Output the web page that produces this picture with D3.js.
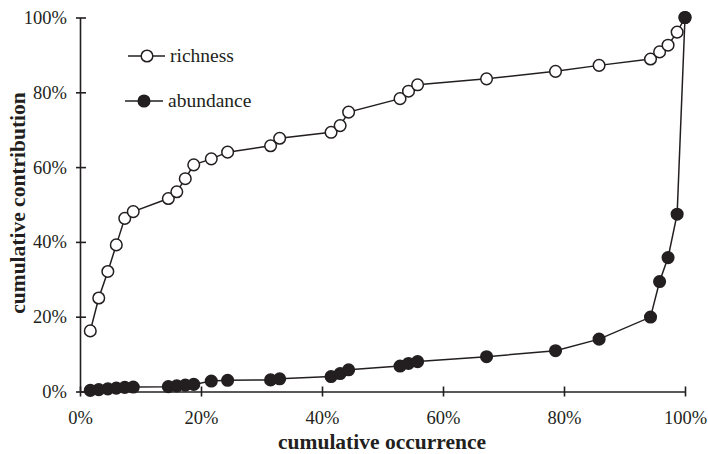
<!DOCTYPE html>
<html>
<head>
<meta charset="utf-8">
<script src="https://cdn.jsdelivr.net/npm/d3@7"></script>
<style>
  body { margin: 0; background: #fff; }
  svg text { font-family: "Liberation Serif", "Times New Roman", serif; fill: #231f20; }
</style>
</head>
<body>
<div id="viz"></div>
<script>
// cumulative occurrence (%) shared by both series
const occurrence = [1.7, 3.1, 4.6, 6.0, 7.4, 8.8, 14.6, 16.0, 17.4, 18.8, 21.7, 24.4,
  31.5, 33.0, 41.5, 43.0, 44.4, 52.9, 54.3, 55.8, 67.2, 78.6, 85.8, 94.3, 95.8, 97.2, 98.7, 100];

const richness = [16.2, 25.0, 32.1, 39.2, 46.3, 48.1, 51.6, 53.4, 56.9, 60.6, 62.2, 64.0,
  65.7, 67.7, 69.3, 71.1, 74.7, 78.3, 80.3, 82.0, 83.6, 85.6, 87.2, 88.9, 90.8, 92.6, 96.1, 100];

const abundance = [0.3, 0.5, 0.7, 0.9, 1.1, 1.2, 1.3, 1.5, 1.7, 1.9, 2.8, 3.0,
  3.1, 3.4, 4.0, 4.8, 5.8, 6.8, 7.5, 8.0, 9.3, 10.9, 14.0, 19.9, 29.4, 35.8, 47.4, 100];

const xTicks = [0, 20, 40, 60, 80, 100];
const yTicks = [0, 20, 40, 60, 80, 100];

const ink = "#231f20";

const svg = d3.select("#viz")
  .append("svg")
  .attr("width", 708)
  .attr("height", 454);

const xScale = d3.scaleLinear()
  .domain([0, 100])
  .range([80, 685]);

const yScale = d3.scaleLinear()
  .domain([0, 100])
  .range([391.5, 17.5]);

// axes
const xAxis = svg.append("g")
  .attr("transform", `translate(0,${yScale(0)})`)
  .call(d3.axisBottom(xScale).tickValues(xTicks).tickSize(5).tickSizeOuter(0).tickPadding(14)
    .tickFormat(d => d + "%"));

xAxis.selectAll(".tick line").attr("y1", -5);

const yAxis = svg.append("g")
  .attr("transform", `translate(${xScale(0)},0)`)
  .call(d3.axisLeft(yScale).tickValues(yTicks).tickSize(4).tickSizeOuter(0).tickPadding(9)
    .tickFormat(d => d + "%"));

yAxis.selectAll(".tick line").attr("x1", 6);

svg.selectAll(".domain, .tick line")
  .attr("stroke", ink)
  .attr("stroke-width", 1.6);

svg.selectAll(".tick text")
  .attr("font-size", 18.5)
  .attr("font-family", "Liberation Serif")
  .attr("fill", ink);

// axis titles
svg.append("text")
  .attr("x", 382)
  .attr("y", 449)
  .attr("text-anchor", "middle")
  .attr("font-size", 21.5)
  .attr("font-weight", "bold")
  .text("cumulative occurrence");

svg.append("text")
  .attr("transform", "translate(25,203) rotate(-90)")
  .attr("text-anchor", "middle")
  .attr("font-size", 21.5)
  .attr("font-weight", "bold")
  .text("cumulative contribution");

// series
const series = [
  { name: "richness", values: richness, fill: "#fff" },
  { name: "abundance", values: abundance, fill: ink }
];

const line = d3.line()
  .x((d, i) => xScale(occurrence[i]))
  .y(d => yScale(d));

series.forEach(s => {
  svg.append("path")
    .datum(s.values)
    .attr("d", line)
    .attr("fill", "none")
    .attr("stroke", ink)
    .attr("stroke-width", 1.5);

  svg.append("g")
    .selectAll("circle")
    .data(s.values)
    .join("circle")
    .attr("cx", (d, i) => xScale(occurrence[i]))
    .attr("cy", d => yScale(d))
    .attr("r", 5.8)
    .attr("fill", s.fill)
    .attr("stroke", ink)
    .attr("stroke-width", 1.5);
});

// legend
const legend = svg.append("g")
  .selectAll("g")
  .data(series)
  .join("g")
  .attr("transform", (d, i) => i === 0 ? "translate(128,56)" : "translate(125,101)");

legend.append("line")
  .attr("x1", 0)
  .attr("x2", (d, i) => i === 0 ? 37 : 38)
  .attr("stroke", ink)
  .attr("stroke-width", 1.5);

legend.append("circle")
  .attr("cx", 19)
  .attr("r", 5.8)
  .attr("fill", d => d.fill)
  .attr("stroke", ink)
  .attr("stroke-width", 1.5);

legend.append("text")
  .attr("x", (d, i) => i === 0 ? 42 : 43)
  .attr("dy", "0.32em")
  .attr("font-size", 19.5)
  .text(d => d.name);
</script>
</body>
</html>
